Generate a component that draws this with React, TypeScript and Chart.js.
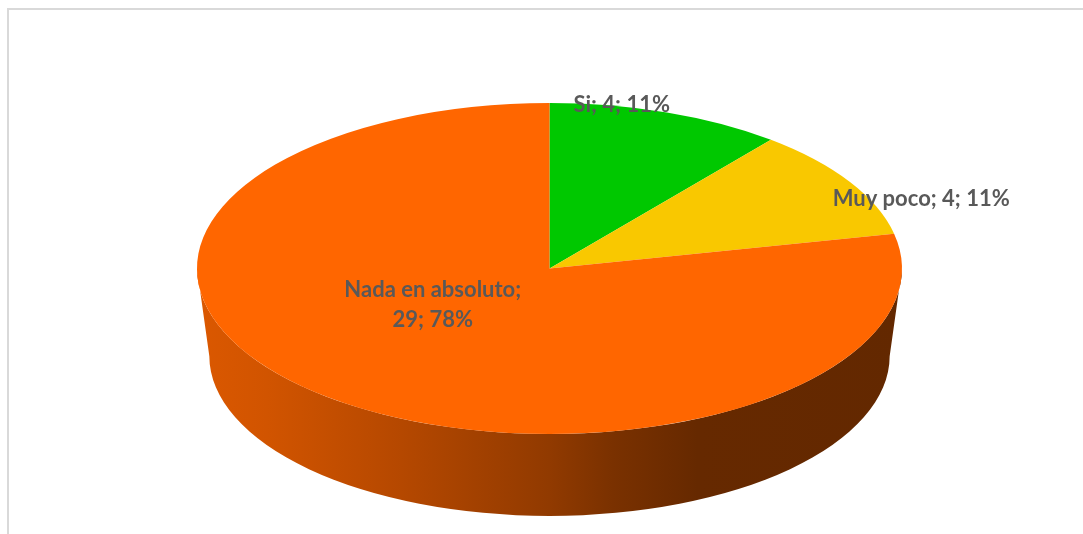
import React, { useEffect, useRef } from "react";
import { Chart, registerables } from "chart.js";

Chart.register(...registerables);

// ---- data ----
const categories = ["Si", "Muy poco", "Nada en absoluto"];
const values = [4, 4, 29];
const sliceColors = ["#00C800", "#F9C800", "#FF6600"];
const wrapLabel = [false, false, true];

// ---- styles ----
const X_STRETCH = 352.5 / 165.5; // ellipse aspect of the tilted pie
const DEPTH = 0.53; // side depth relative to radius
const BOTTOM_SCALE = 0.965; // perspective shrink of the bottom rim
const shadeStops: [number, number][] = [
  [0, 0.86],
  [0.1, 0.82],
  [0.29, 0.71],
  [0.5, 0.57],
  [0.59, 0.48],
  [0.71, 0.4],
  [1, 0.39],
];
const labelPlacement = [
  { r: 1, dx: 3, dy: -8, align: "right" },
  { r: 1, dx: -17, dy: 17, align: "left" },
  { r: 0.5, dx: -6, dy: -28, align: "center" },
];
const LABEL_FONT = "bold 22px Lato";
const LABEL_COLOR = "#595959";
const LINE_HEIGHT = 30;

function hexToRgb(hex: string) {
  const h = hex.replace("#", "");
  return [
    parseInt(h.slice(0, 2), 16),
    parseInt(h.slice(2, 4), 16),
    parseInt(h.slice(4, 6), 16),
  ];
}

function shade(hex: string, f: number) {
  const [r, g, b] = hexToRgb(hex);
  return `rgb(${Math.round(r * f)},${Math.round(g * f)},${Math.round(b * f)})`;
}

const pie3d = {
  id: "pie3d",
  beforeDatasetsDraw(chart: any) {
    const ctx = chart.ctx as CanvasRenderingContext2D;
    const meta = chart.getDatasetMeta(0);
    const first = meta.data[0] as any;
    if (!first) return;
    const { x: cx, y: cy, outerRadius: r } = first.getProps(
      ["x", "y", "outerRadius"],
      true
    );
    const rx = r * X_STRETCH;
    const rxb = rx * BOTTOM_SCALE;
    const ryb = r * BOTTOM_SCALE;
    const yb = cy + r * DEPTH;

    // side walls for the parts of slices facing the viewer (angles 0..PI)
    meta.data.forEach((el: any, i: number) => {
      const { startAngle, endAngle } = el.getProps(["startAngle", "endAngle"], true);
      for (let k = -1; k <= 1; k++) {
        const a = Math.max(startAngle + 2 * Math.PI * k, 0);
        const b = Math.min(endAngle + 2 * Math.PI * k, Math.PI);
        if (b <= a) continue;
        const grad = ctx.createLinearGradient(cx - rx, 0, cx + rx, 0);
        shadeStops.forEach(([s, f]) => grad.addColorStop(s, shade(sliceColors[i], f)));
        ctx.save();
        ctx.beginPath();
        ctx.ellipse(cx, cy, rx, r, 0, a, b, false);
        ctx.lineTo(cx + rxb * Math.cos(b), yb + ryb * Math.sin(b));
        ctx.ellipse(cx, yb, rxb, ryb, 0, b, a, true);
        ctx.closePath();
        ctx.fillStyle = grad;
        ctx.fill();
        ctx.restore();
      }
    });

    // tilt the top face
    ctx.save();
    ctx.translate(cx, cy);
    ctx.scale(X_STRETCH, 1);
    ctx.translate(-cx, -cy);
  },
  afterDatasetsDraw(chart: any) {
    const ctx = chart.ctx as CanvasRenderingContext2D;
    const meta = chart.getDatasetMeta(0);
    if (!meta.data[0]) return;
    ctx.restore();

    const total = values.reduce((s, v) => s + v, 0);
    ctx.save();
    ctx.font = LABEL_FONT;
    ctx.fillStyle = LABEL_COLOR;
    ctx.textBaseline = "middle";
    meta.data.forEach((el: any, i: number) => {
      const { x: cx, y: cy, outerRadius: r, startAngle, endAngle } = el.getProps(
        ["x", "y", "outerRadius", "startAngle", "endAngle"],
        true
      );
      const mid = (startAngle + endAngle) / 2;
      const p = labelPlacement[i];
      const ax = cx + p.r * r * X_STRETCH * Math.cos(mid) + p.dx;
      const ay = cy + p.r * r * Math.sin(mid) + p.dy;
      const pct = Math.round((values[i] / total) * 100) + "%";
      const lines = wrapLabel[i]
        ? [`${categories[i]};`, `${values[i]}; ${pct}`]
        : [`${categories[i]}; ${values[i]}; ${pct}`];
      ctx.textAlign = p.align as CanvasTextAlign;
      lines.forEach((t, j) => {
        ctx.fillText(t, ax, ay - ((lines.length - 1) * LINE_HEIGHT) / 2 + j * LINE_HEIGHT);
      });
    });
    ctx.restore();
  },
};

export default function App() {
  const ref = useRef<HTMLCanvasElement | null>(null);

  useEffect(() => {
    if (!ref.current) return;
    const chart = new Chart(ref.current, {
      type: "pie",
      data: {
        labels: categories,
        datasets: [
          {
            data: values,
            backgroundColor: sliceColors,
            borderWidth: 0,
            hoverOffset: 0,
            clip: false,
          } as any,
        ],
      },
      options: {
        responsive: false,
        animation: false,
        events: [],
        layout: { padding: { left: 216, right: 200, top: 103, bottom: 100 } },
        plugins: {
          legend: { display: false },
          tooltip: { enabled: false },
        },
      },
      plugins: [pie3d],
    });
    return () => chart.destroy();
  }, []);

  return (
    <div
      style={{
        position: "fixed",
        left: 0,
        top: 0,
        width: 1083,
        height: 534,
        overflow: "hidden",
        background: "#ffffff",
      }}
    >
      <div
        style={{
          position: "absolute",
          left: 7,
          top: 8,
          width: 1200,
          height: 600,
          border: "2px solid #D9D9D9",
        }}
      />
      <canvas
        ref={ref}
        width={1083}
        height={534}
        style={{ position: "absolute", left: 0, top: 0 }}
      />
    </div>
  );
}
